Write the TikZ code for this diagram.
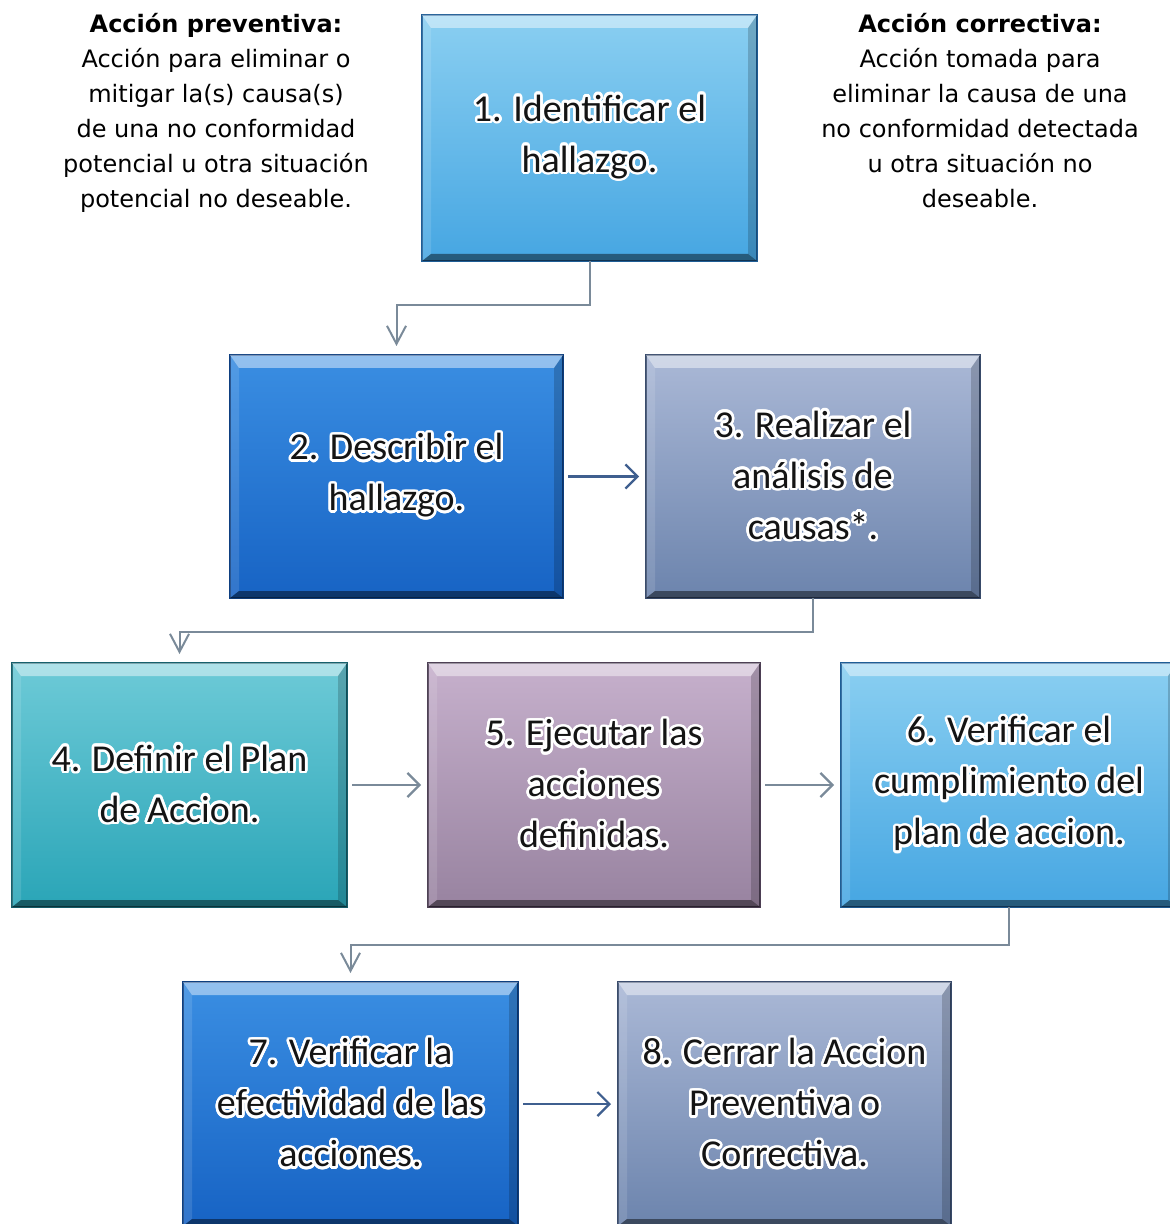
\documentclass[tikz,border=0pt]{standalone}
\usepackage{fontspec}
\setmainfont{Carlito}
\newfontfamily\sidefont{DejaVu Sans}
\usepackage{contour}
\contourlength{1.3pt}
\contournumber{24}
\usetikzlibrary{arrows.meta,calc}
\definecolor{lineblue}{HTML}{3F5F8F}
\definecolor{linegray}{HTML}{7A8A99}
\definecolor{HTML8ACFF1}{HTML}{8ACFF1}
\definecolor{HTML46A6E2}{HTML}{46A6E2}
\definecolor{HTML1F5E96}{HTML}{1F5E96}
\definecolor{HTML3A8EE2}{HTML}{3A8EE2}
\definecolor{HTML1763C4}{HTML}{1763C4}
\definecolor{HTML0E3F80}{HTML}{0E3F80}
\definecolor{HTMLAAB8D6}{HTML}{AAB8D6}
\definecolor{HTML6C84AD}{HTML}{6C84AD}
\definecolor{HTML3A4C6C}{HTML}{3A4C6C}
\definecolor{HTML6DCAD7}{HTML}{6DCAD7}
\definecolor{HTML2AA5B7}{HTML}{2AA5B7}
\definecolor{HTML17606C}{HTML}{17606C}
\definecolor{HTMLC6B0CC}{HTML}{C6B0CC}
\definecolor{HTML9883A0}{HTML}{9883A0}
\definecolor{HTML4E4055}{HTML}{4E4055}
\newcommand\gl[1]{\contour{white}{#1}}
\tikzset{
  boxsty/.style={rectangle, line width=1pt, outer sep=0pt, inner sep=0pt, align=center,
    font=\fontsize{19}{25.5}\selectfont, text=black!92},
  clight/.style={top color=HTML8ACFF1, bottom color=HTML46A6E2, draw=HTML1F5E96},
  cblue/.style={top color=HTML3A8EE2, bottom color=HTML1763C4, draw=HTML0E3F80},
  cslate/.style={top color=HTMLAAB8D6, bottom color=HTML6C84AD, draw=HTML3A4C6C},
  cteal/.style={top color=HTML6DCAD7, bottom color=HTML2AA5B7, draw=HTML17606C},
  cmauve/.style={top color=HTMLC6B0CC, bottom color=HTML9883A0, draw=HTML4E4055},
  sidetxt/.style={font=\sidefont\fontsize{12}{17.5}\selectfont, align=center, inner sep=0pt, text=black},
  elbow/.style={draw=linegray, line width=1pt, -{Straight Barb[length=9pt,width=9.5pt]}, shorten >=4.5pt},
  harrow/.style={draw=#1, line width=1.1pt, -{Straight Barb[length=6pt,width=12pt]}, shorten <=2.5pt, shorten >=3.5pt},
}
\newcommand\bevelbox[7]{%
  \node[boxsty,#6,minimum width={(#4-#2)*0.5pt},minimum height={(#5-#3)*0.5pt}] (#1) at ({(#2+#4)/2},{(#3+#5)/2}) {#7};
  \fill[white,opacity=.45] (#1.north west) -- (#1.north east) -- ([shift={(-9,13)}]#1.north east) -- ([shift={(9,13)}]#1.north west) -- cycle;
  \fill[white,opacity=.12] (#1.north west) -- ([shift={(9,13)}]#1.north west) -- ([shift={(9,-7)}]#1.south west) -- (#1.south west) -- cycle;
  \fill[black,opacity=.18] (#1.north east) -- ([shift={(-9,13)}]#1.north east) -- ([shift={(-9,-7)}]#1.south east) -- (#1.south east) -- cycle;
  \fill[black,opacity=.45] (#1.south west) -- ([shift={(9,-7)}]#1.south west) -- ([shift={(-9,-7)}]#1.south east) -- (#1.south east) -- cycle;
}
\begin{document}
\begin{tikzpicture}[x=0.5pt,y=-0.5pt]
\useasboundingbox (0,0) rectangle (1169,1224);
\fill[white] (0,0) rectangle (1169,1224);

\node[sidetxt] (prev) at (216,113) {\textbf{Acción preventiva:}\\Acción para eliminar o\\mitigar la(s) causa(s)\\de una no conformidad\\potencial u otra situación\\potencial no deseable.};
\node[sidetxt] (corr) at (980,111) {\textbf{Acción correctiva:}\\Acción tomada para\\eliminar la causa de una\\no conformidad detectada\\u otra situación no\\deseable.};

\bevelbox{b1}{422}{15}{757}{261}{clight}{\gl{1. Identificar el}\\\gl{hallazgo.}}
\bevelbox{b2}{230}{355}{563}{598}{cblue}{\gl{2. Describir el}\\\gl{hallazgo.}}
\bevelbox{b3}{646}{355}{980}{598}{cslate}{\gl{3. Realizar el}\\\gl{análisis de}\\\gl{causas*.}}
\bevelbox{b4}{12}{663}{347}{907}{cteal}{\gl{4. Definir el Plan}\\\gl{de Accion.}}
\bevelbox{b5}{428}{663}{760}{907}{cmauve}{\gl{5. Ejecutar las}\\\gl{acciones}\\\gl{definidas.}}
\bevelbox{b6}{841}{663}{1177}{907}{clight}{\gl{6. Verificar el}\\\gl{cumplimiento del}\\\gl{plan de accion.}}
\bevelbox{b7}{183}{982}{518}{1226}{cblue}{\gl{7. Verificar la}\\\gl{efectividad de las}\\\gl{acciones.}}
\bevelbox{b8}{618}{982}{951}{1226}{cslate}{\gl{8. Cerrar la Accion}\\\gl{Preventiva o}\\\gl{Correctiva.}}

\draw[elbow] (b1.south) -- ++(0,44) -| (b2.north);
\draw[elbow] (b3.south) -- ++(0,34) -| (b4.north);
\draw[elbow] (b6.south) -- ++(0,38) -| (b7.north);

\draw[harrow=lineblue] (b2.east) -- (b3.west);
\draw[harrow=linegray] (b4.east) -- (b5.west);
\draw[harrow=linegray] (b5.east) -- (b6.west);
\draw[harrow=lineblue] (b7.east) -- (b8.west);
\end{tikzpicture}
\end{document}
